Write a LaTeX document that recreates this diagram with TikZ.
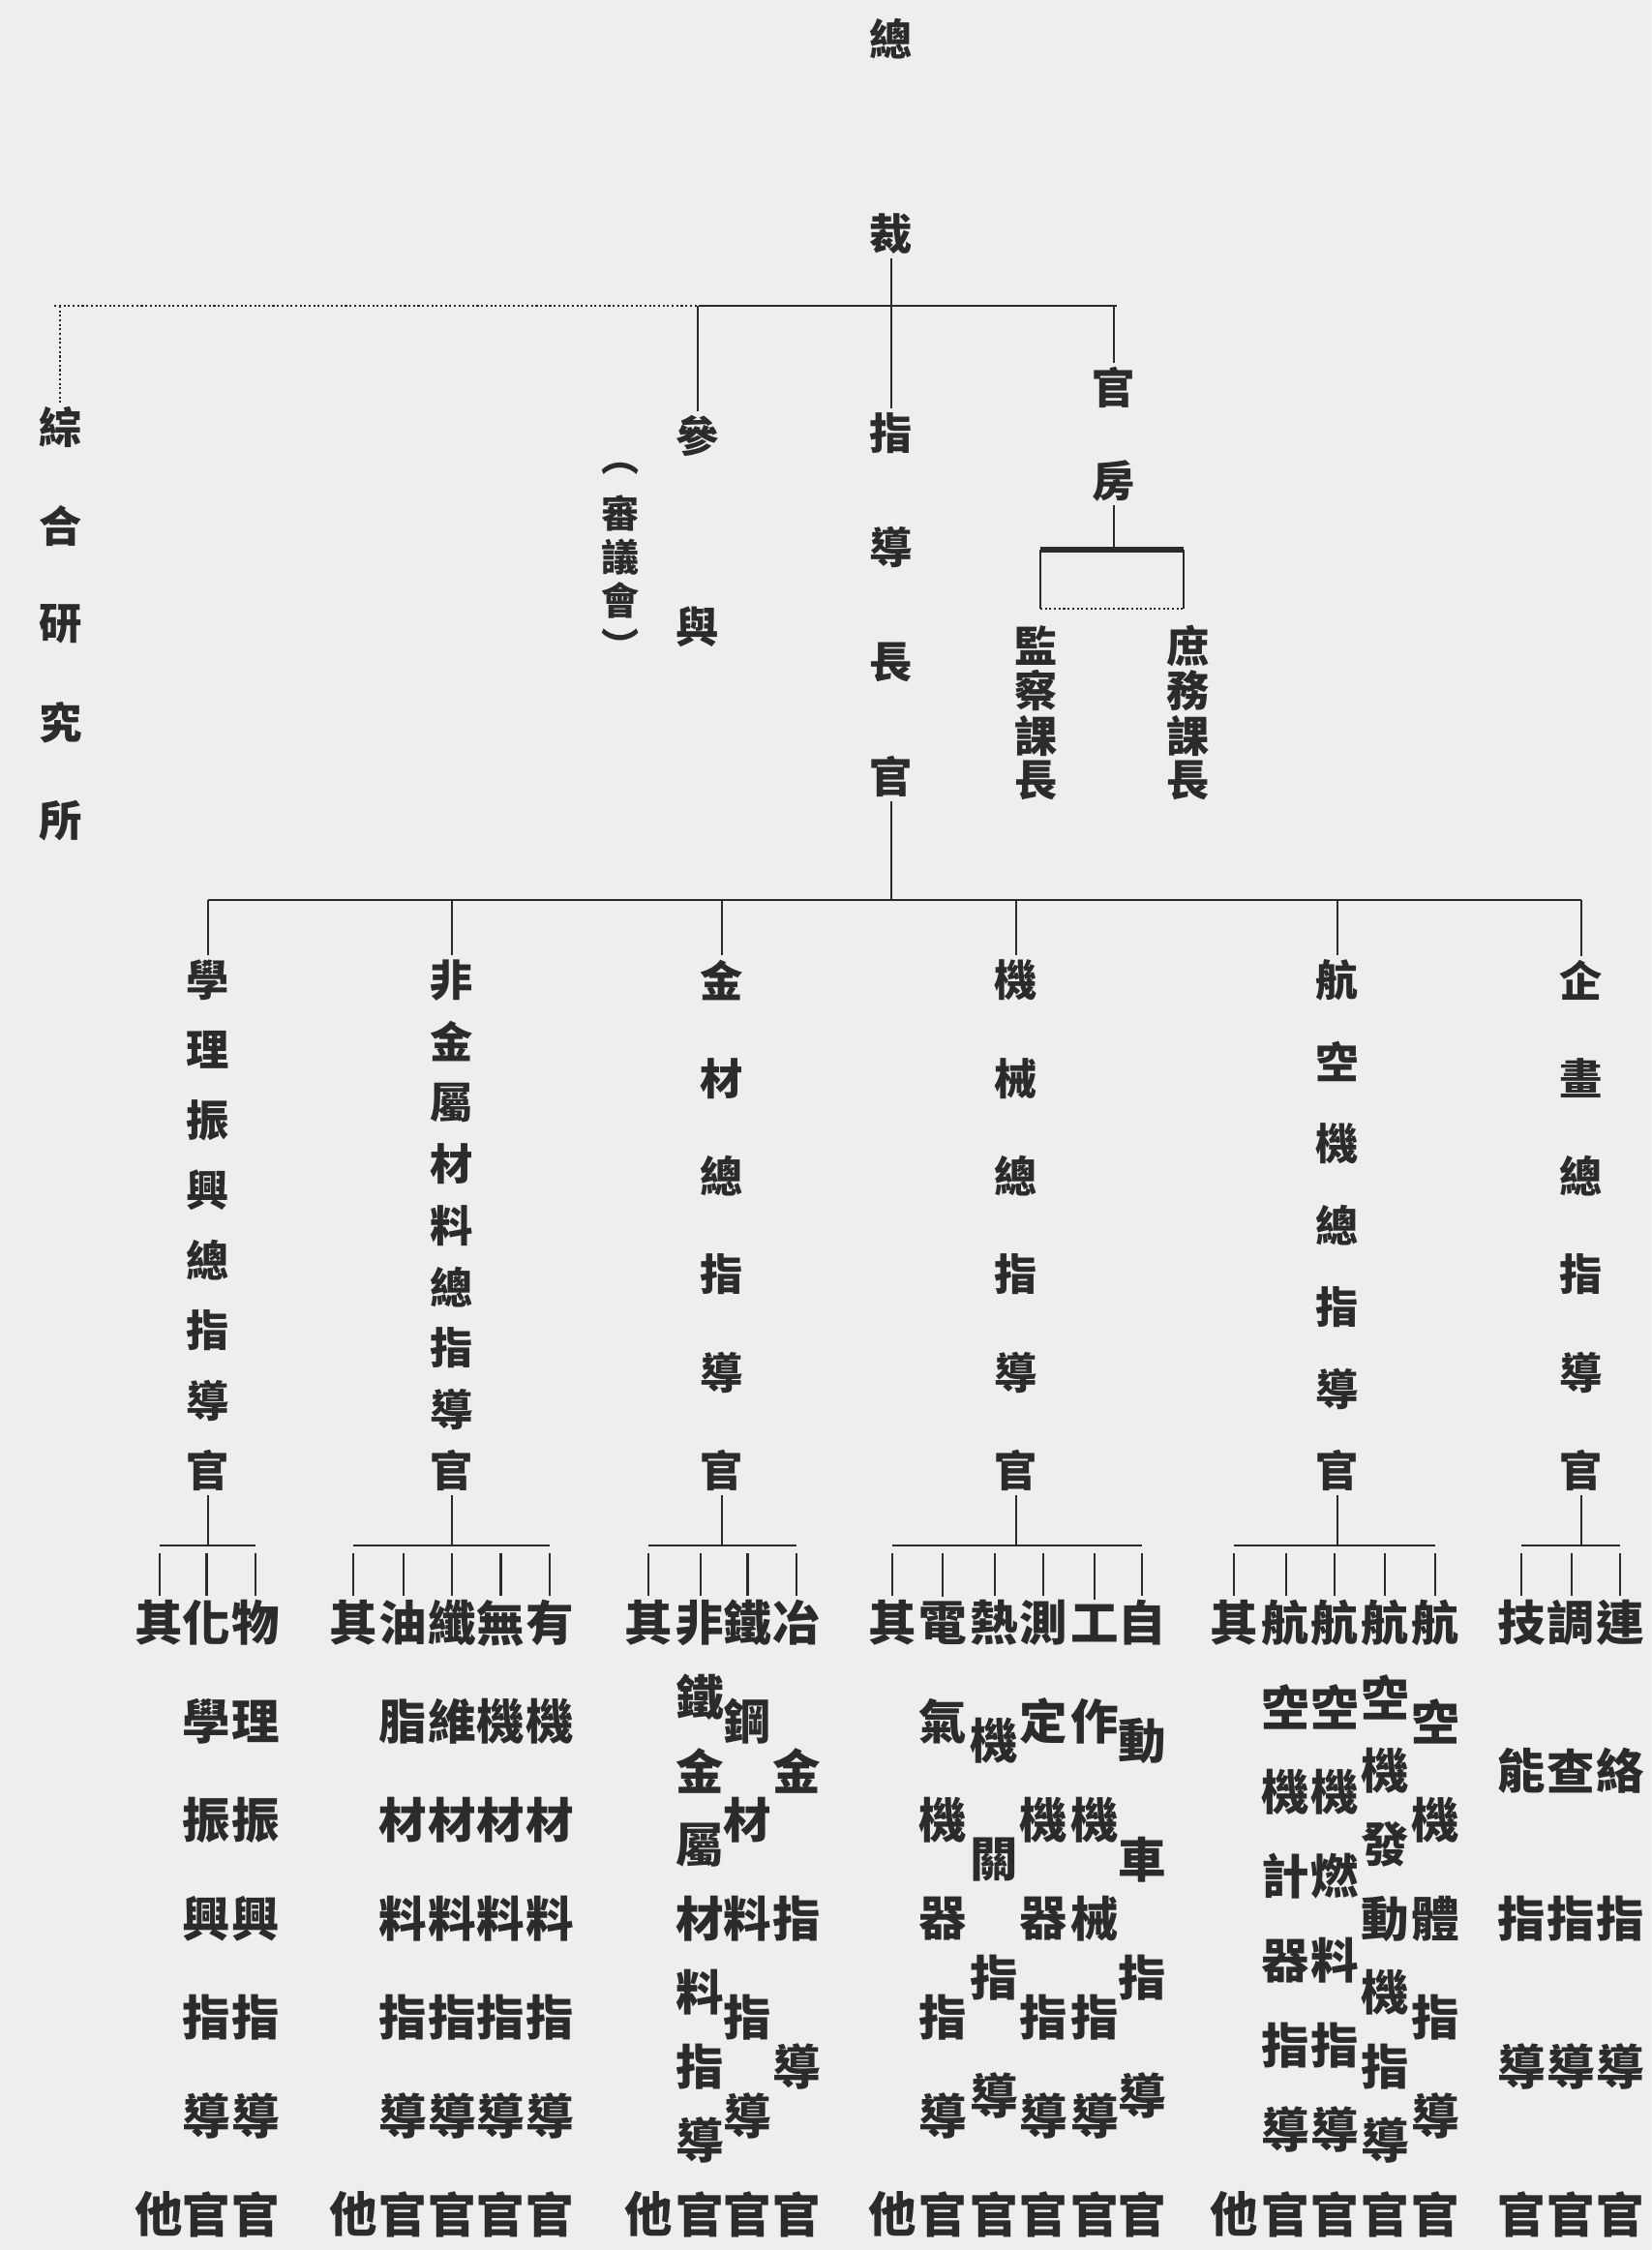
\documentclass[tikz,border=0pt]{standalone}
\usepackage{fontspec}
\newfontfamily\cjk{Noto Sans CJK TC}
\definecolor{ink}{HTML}{2B2B2B}
\definecolor{paper}{HTML}{EEEEEE}
\tikzset{
  zi/.style={inner sep=1.5pt, text=ink, font=\cjk\bfseries\fontsize{17pt}{17pt}\selectfont},
  zit/.style={zi, font=\cjk\bfseries\fontsize{15pt}{15pt}\selectfont},
  zis/.style={zi, font=\cjk\bfseries\fontsize{19pt}{19pt}\selectfont},
  rule/.style={draw=ink, line width=0.8pt},
}
% style, name, x, top y, bottom y, count, characters
\newcommand\vcol[7]{%
  \foreach \zc [count=\k] in {#7}
    \node[#1] (#2-\k) at (#3,{#4+(\k-1)*(#5-#4)/(#6-1)}) {\zc};}
\begin{document}
\begin{tikzpicture}[x=0.02cm, y=-0.02cm]
  \useasboundingbox (0,0) rectangle (1151,1568);
  \clip (0,0) rectangle (1151,1568);
  \fill[paper] (0,0) rectangle (1151,1568);

  \node[zi] (zong) at (621,27) {總};
  \node[zi] (cai) at (621,163) {裁};
  \coordinate (barTL) at (38,213);
  \coordinate (barTM) at (487,213);
  \coordinate (barTR) at (778,213);
  \draw[rule, densely dotted] (barTL) -- (barTM);
  \draw[rule] (barTM) -- (barTR);
  \draw[rule] (cai) -- (cai |- barTM);

  \vcol{zi}{yj}{42}{298}{572}{5}{綜,合,研,究,所}
  \draw[rule, densely dotted] (yj-1 |- barTL) -- (yj-1);
  \vcol{zi}{cy}{486}{304}{437}{2}{參,與}
  \draw[rule] (cy-1 |- barTM) -- (cy-1);
  \vcol{zit}{sy}{432}{327}{449}{5}{︵,審,議,會,︶}
  \vcol{zi}{zd}{621}{302}{541}{4}{指,導,長,官}
  \draw[rule] (zd-1 |- barTM) -- (zd-1);
  \vcol{zi}{gf}{776}{270}{335}{2}{官,房}
  \draw[rule] (gf-1 |- barTM) -- (gf-1);

  \coordinate (brL) at (725,383);
  \coordinate (brR) at (825,383);
  \coordinate (bbL) at (725,424);
  \coordinate (bbR) at (825,424);
  \draw[rule] (gf-2) -- (gf-2 |- brL);
  \draw[ink, line width=2pt] (brL) -- (brR);
  \draw[rule] (brL) -- (bbL);
  \draw[rule] (brR) -- (bbR);
  \draw[rule, densely dotted] (bbL) -- (bbR);
  \vcol{zi}{jc}{722}{450}{544}{4}{監,察,課,長}
  \vcol{zi}{sw}{828}{450}{544}{4}{庶,務,課,長}

  \coordinate (barML) at (145,627);
  \coordinate (barMR) at (1102,627);
  \draw[rule] (barML) -- (barMR);
  \draw[rule] (zd-4) -- (zd-4 |- barML);

  \vcol{zi}{c1}{145}{683}{1025}{8}{學,理,振,興,總,指,導,官}
  \vcol{zi}{c2}{315}{683}{1025}{9}{非,金,屬,材,料,總,指,導,官}
  \vcol{zi}{c3}{503}{683}{1025}{6}{金,材,總,指,導,官}
  \vcol{zi}{c4}{708}{683}{1025}{6}{機,械,總,指,導,官}
  \vcol{zi}{c5}{932}{683}{1025}{7}{航,空,機,總,指,導,官}
  \vcol{zi}{c6}{1102}{683}{1025}{6}{企,畫,總,指,導,官}
  \foreach \c in {c1,c2,c3,c4,c5,c6}
    \draw[rule] (\c-1 |- barML) -- (\c-1);

  \coordinate (sa) at (145,1077);
  \coordinate (sb) at (315,1077);
  \coordinate (sd) at (503,1077);
  \coordinate (se) at (708,1077);
  \coordinate (sf) at (932,1077);
  \coordinate (sh) at (1102,1077);
  \draw[rule] (c1-8) -- (sa);
  \draw[rule] (c2-9) -- (sb);
  \draw[rule] (c3-6) -- (sd);
  \draw[rule] (c4-6) -- (se);
  \draw[rule] (c5-7) -- (sf);
  \draw[rule] (c6-6) -- (sh);

  \vcol{zis}{a1}{111}{1131}{1543}{2}{其,他}
  \vcol{zis}{a2}{144}{1131}{1543}{7}{化,學,振,興,指,導,官}
  \vcol{zis}{a3}{178}{1131}{1543}{7}{物,理,振,興,指,導,官}
  \draw[rule] (sa -| a1-1) -- (sa -| a3-1);
  \foreach \j in {1,...,3}
    \draw[rule, shorten <=3pt] (sa -| a\j-1) -- (a\j-1);

  \vcol{zis}{b1}{246}{1131}{1543}{2}{其,他}
  \vcol{zis}{b2}{281}{1131}{1543}{7}{油,脂,材,料,指,導,官}
  \vcol{zis}{b3}{315}{1131}{1543}{7}{纖,維,材,料,指,導,官}
  \vcol{zis}{b4}{349}{1131}{1543}{7}{無,機,材,料,指,導,官}
  \vcol{zis}{b5}{383}{1131}{1543}{7}{有,機,材,料,指,導,官}
  \draw[rule] (sb -| b1-1) -- (sb -| b5-1);
  \foreach \j in {1,...,5}
    \draw[rule, shorten <=3pt] (sb -| b\j-1) -- (b\j-1);

  \vcol{zis}{d1}{452}{1131}{1543}{2}{其,他}
  \vcol{zis}{d2}{488}{1131}{1543}{9}{非,鐵,金,屬,材,料,指,導,官}
  \vcol{zis}{d3}{521}{1131}{1543}{7}{鐵,鋼,材,料,指,導,官}
  \vcol{zis}{d4}{555}{1131}{1543}{5}{冶,金,指,導,官}
  \draw[rule] (sd -| d1-1) -- (sd -| d4-1);
  \foreach \j in {1,...,4}
    \draw[rule, shorten <=3pt] (sd -| d\j-1) -- (d\j-1);

  \vcol{zis}{e1}{622}{1131}{1543}{2}{其,他}
  \vcol{zis}{e2}{657}{1131}{1543}{7}{電,氣,機,器,指,導,官}
  \vcol{zis}{e3}{693}{1131}{1543}{6}{熱,機,關,指,導,官}
  \vcol{zis}{e4}{727}{1131}{1543}{7}{測,定,機,器,指,導,官}
  \vcol{zis}{e5}{763}{1131}{1543}{7}{工,作,機,械,指,導,官}
  \vcol{zis}{e6}{796}{1131}{1543}{6}{自,動,車,指,導,官}
  \draw[rule] (se -| e1-1) -- (se -| e6-1);
  \foreach \j in {1,...,6}
    \draw[rule, shorten <=3pt] (se -| e\j-1) -- (e\j-1);

  \vcol{zis}{f1}{860}{1131}{1543}{2}{其,他}
  \vcol{zis}{f2}{896}{1131}{1543}{8}{航,空,機,計,器,指,導,官}
  \vcol{zis}{f3}{930}{1131}{1543}{8}{航,空,機,燃,料,指,導,官}
  \vcol{zis}{f4}{965}{1131}{1543}{9}{航,空,機,發,動,機,指,導,官}
  \vcol{zis}{f5}{1000}{1131}{1543}{7}{航,空,機,體,指,導,官}
  \draw[rule] (sf -| f1-1) -- (sf -| f5-1);
  \foreach \j in {1,...,5}
    \draw[rule, shorten <=3pt] (sf -| f\j-1) -- (f\j-1);

  \vcol{zis}{h1}{1060}{1131}{1543}{5}{技,能,指,導,官}
  \vcol{zis}{h2}{1095}{1131}{1543}{5}{調,查,指,導,官}
  \vcol{zis}{h3}{1129}{1131}{1543}{5}{連,絡,指,導,官}
  \draw[rule] (sh -| h1-1) -- (sh -| h3-1);
  \foreach \j in {1,...,3}
    \draw[rule, shorten <=3pt] (sh -| h\j-1) -- (h\j-1);
\end{tikzpicture}
\end{document}
